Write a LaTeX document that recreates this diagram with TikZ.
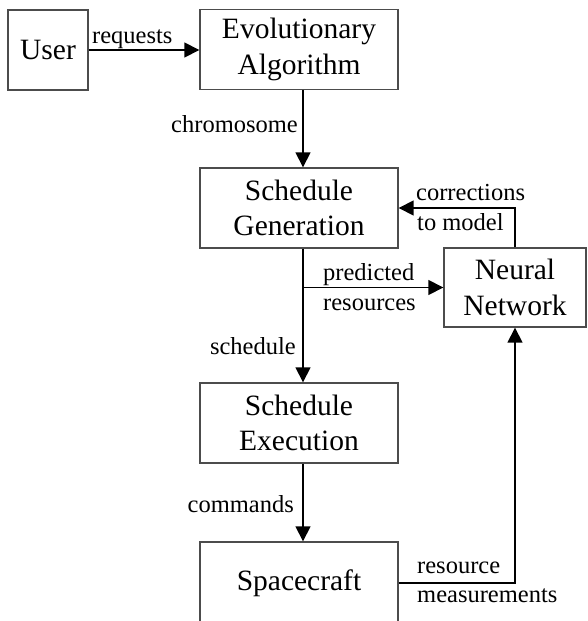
\documentclass[tikz,border=0pt]{standalone}
\usepackage{fontspec}
\setmainfont{Liberation Serif}
\usetikzlibrary{arrows.meta,positioning}

\tikzset{
  block/.style={draw=black!70, line width=1.4pt, minimum width=198pt, minimum height=80pt,
    align=center, inner sep=0pt, font=\fontsize{29.5}{35.5}\selectfont},
  flow/.style={-{Triangle[length=15pt,width=15pt]}, line width=1.6pt},
  lbl/.style={inner sep=0pt, font=\fontsize{24.5}{30}\selectfont},
}

\begin{document}
\begin{tikzpicture}[x=1pt,y=-1pt]
    \useasboundingbox (0,0) rectangle (587,621);

    % Bloques
    \node[block, minimum width=80pt] (user) at (48,50) {User};
    \node[block] (evo) at (299,49.5) {Evolutionary\\Algorithm};
    \node[block] (gen) at (299,208) {Schedule\\Generation};
    \node[block, minimum width=142pt, minimum height=79pt] (nn) at (515,287.5) {Neural\\Network};
    \node[block] (exe) at (299,423) {Schedule\\Execution};
    \node[block, minimum height=82pt] (craft) at (299,583) {Spacecraft};
    \coordinate (trunk) at ([xshift=4pt]gen.south);

    % Flujo principal
    \draw[flow] (user.east) -- (user.east -| evo.west);
    \draw[flow] ([xshift=4pt]evo.south) -- ([xshift=4pt]gen.north);
    \draw[flow] (trunk) -- ([xshift=4pt]exe.north);
    \draw[flow] ([xshift=4pt]exe.south) -- ([xshift=4pt]craft.north);

    % Red neuronal
    \draw[flow] (trunk |- nn.west) -- (nn.west);
    \draw[flow] (nn.north) |- (gen.east);
    \draw[flow] (craft.east) -| (nn.south);

    % Etiquetas
    \node[lbl, anchor=base west] (lreq) at (92,43) {requests};
    \node[lbl, anchor=base east] (lchrom) at (298,132) {chromosome};
    \node[lbl, anchor=base west] (lcorr) at (416,200) {corrections};
    \node[lbl, anchor=base west] (lmodel) at (417,230) {to model};
    \node[lbl, anchor=base west] (lpred) at (323,280) {predicted};
    \node[lbl, anchor=base west] (lres) at (323,310) {resources};
    \node[lbl, anchor=base east] (lsched) at (296,354) {schedule};
    \node[lbl, anchor=base east] (lcmd) at (294,512) {commands};
    \node[lbl, anchor=base west] (lrsc) at (417,573) {resource};
    \node[lbl, anchor=base west] (lmeas) at (417,602) {measurements};

\end{tikzpicture}
\end{document}
